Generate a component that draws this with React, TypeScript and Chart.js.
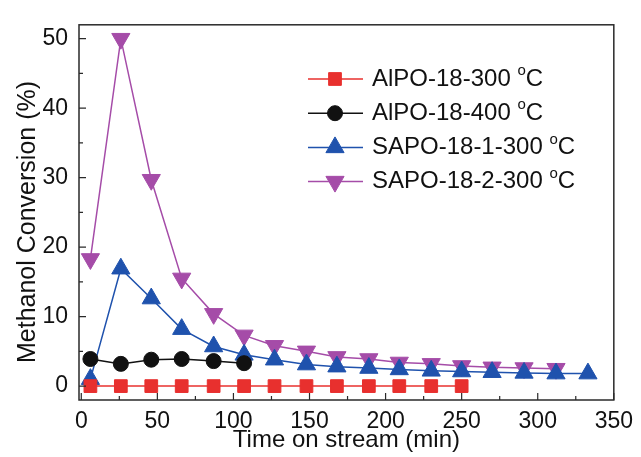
import React, { useEffect, useRef } from 'react';
import { Chart, registerables } from 'chart.js';

Chart.register(...registerables);

// ---- data ----
const timeMin = [6, 26, 46, 66, 87, 107, 127, 148, 168, 189, 209, 230, 250, 270, 291, 312, 333];
const alpo300 = [0, 0, 0, 0, 0, 0, 0, 0, 0, 0, 0, 0, 0];
const alpo400 = [3.9, 3.2, 3.8, 3.9, 3.6, 3.3];
const sapo1 = [1.0, 16.9, 12.6, 8.2, 5.7, 4.5, 3.8, 3.1, 2.8, 2.6, 2.4, 2.2, 2.1, 2.0, 1.9, 1.8, 1.8];
const sapo2 = [18.3, 50.0, 29.7, 15.5, 10.4, 7.3, 5.8, 5.0, 4.2, 3.9, 3.4, 3.2, 2.9, 2.7, 2.6, 2.5];

const seriesNames = ['AlPO-18-300 °C', 'AlPO-18-400 °C', 'SAPO-18-1-300 °C', 'SAPO-18-2-300 °C'];
const seriesColors = ['#e8302e', '#111111', '#1f52ad', '#a54ca8'];
const xTicks = [0, 25, 50, 75, 100, 125, 150, 175, 200, 225, 250, 275, 300, 325, 350];
const yTicks = [0, 5, 10, 15, 20, 25, 30, 35, 40, 45, 50];
const xTitle = 'Time on stream (min)';
const yTitle = 'Methanol Conversion (%)';

const FONT = 'Liberation Sans, Arial, Helvetica, sans-serif';

function pts(values: number[]) {
  return values.map((v, i) => ({ x: timeMin[i], y: v }));
}

const frameTicksPlugin = {
  id: 'frameTicks',
  afterDraw(chart: any) {
    const { ctx, chartArea } = chart;
    const xs = chart.scales.x;
    const ys = chart.scales.y;
    ctx.save();
    ctx.strokeStyle = '#2a2a2a';
    ctx.lineWidth = 1.5;
    ctx.strokeRect(chartArea.left, chartArea.top, chartArea.right - chartArea.left, chartArea.bottom - chartArea.top);
    ctx.lineWidth = 1.2;
    ctx.beginPath();
    xTicks.forEach((v) => {
      const px = xs.getPixelForValue(v);
      const len = v % 50 === 0 ? 7 : 4;
      ctx.moveTo(px, chartArea.bottom);
      ctx.lineTo(px, chartArea.bottom - len);
    });
    yTicks.forEach((v) => {
      const py = ys.getPixelForValue(v);
      const len = v % 10 === 0 ? 7 : 4;
      ctx.moveTo(chartArea.left, py);
      ctx.lineTo(chartArea.left + len, py);
    });
    ctx.stroke();
    // y axis title (placed as in the original figure, slightly below centre)
    ctx.translate(28, 222);
    ctx.rotate(-Math.PI / 2);
    ctx.fillStyle = '#111';
    ctx.font = `25px ${FONT}`;
    ctx.textAlign = 'center';
    ctx.textBaseline = 'middle';
    ctx.fillText(yTitle, 0, 0);
    ctx.restore();
  },
};

function drawMarker(ctx: CanvasRenderingContext2D, style: string, r: number, rot: number, x: number, y: number) {
  ctx.beginPath();
  if (style === 'rect') {
    const s = r * Math.SQRT2;
    ctx.rect(x - s / 2, y - s / 2, s, s);
  } else if (style === 'circle') {
    ctx.arc(x, y, r, 0, Math.PI * 2);
  } else if (style === 'triangle') {
    const a = (rot * Math.PI) / 180;
    for (let k = 0; k < 3; k++) {
      const ang = a + (k * 2 * Math.PI) / 3;
      const px = x + Math.sin(ang) * r;
      const py = y - Math.cos(ang) * r;
      if (k === 0) ctx.moveTo(px, py);
      else ctx.lineTo(px, py);
    }
    ctx.closePath();
  }
  ctx.fill();
  ctx.stroke();
}

const legendPlugin = {
  id: 'insideLegend',
  afterDraw(chart: any) {
    const { ctx } = chart;
    const x0 = 308;
    const x1 = 363;
    const xm = 335;
    const tx = 372;
    const y0 = 79;
    const dy = 34.2;
    ctx.save();
    chart.data.datasets.forEach((ds: any, i: number) => {
      const y = y0 + i * dy;
      ctx.strokeStyle = ds.borderColor;
      ctx.lineWidth = 1.5;
      ctx.beginPath();
      ctx.moveTo(x0, y);
      ctx.lineTo(x1, y);
      ctx.stroke();
      ctx.fillStyle = ds.backgroundColor;
      ctx.strokeStyle = ds.borderColor;
      ctx.lineWidth = 1;
      drawMarker(ctx, ds.pointStyle, ds.pointRadius, ds.pointRotation || 0, xm, y);
      const label: string = ds.label;
      const base = label.replace('°C', '');
      ctx.fillStyle = '#111';
      ctx.textBaseline = 'middle';
      ctx.textAlign = 'left';
      ctx.font = `24px ${FONT}`;
      ctx.fillText(base, tx, y);
      let w = ctx.measureText(base).width;
      ctx.font = `15px ${FONT}`;
      ctx.fillText('o', tx + w, y - 8);
      w += ctx.measureText('o').width;
      ctx.font = `24px ${FONT}`;
      ctx.fillText('C', tx + w, y);
    });
    ctx.restore();
  },
};

export default function App() {
  const ref = useRef<HTMLCanvasElement | null>(null);

  useEffect(() => {
    if (!ref.current) return;
    const mk = (i: number, values: number[], style: string, radius: number, rotation = 0) => ({
      label: seriesNames[i],
      data: pts(values),
      borderColor: seriesColors[i],
      backgroundColor: seriesColors[i],
      pointBackgroundColor: seriesColors[i],
      pointBorderColor: seriesColors[i],
      pointStyle: style,
      pointRadius: radius,
      pointRotation: rotation,
      pointBorderWidth: 1,
      borderWidth: 1.5,
      tension: 0,
      fill: false,
    });
    const chart = new Chart(ref.current, {
      type: 'line',
      data: {
        datasets: [
          mk(0, alpo300, 'rect', 9),
          mk(1, alpo400, 'circle', 7.5),
          mk(2, sapo1, 'triangle', 10.5),
          mk(3, sapo2, 'triangle', 10.5, 180),
        ] as any,
      },
      options: {
        animation: false,
        responsive: true,
        maintainAspectRatio: false,
        layout: { padding: { top: 14, right: 22, left: 0, bottom: 0 } },
        plugins: {
          legend: { display: false },
          tooltip: { enabled: false },
        },
        scales: {
          x: {
            type: 'linear',
            min: -1.5,
            max: 350,
            afterBuildTicks: (s: any) => {
              s.ticks = xTicks.map((v) => ({ value: v }));
            },
            afterFit: (s: any) => {
              s.height = 57;
            },
            grid: { display: false, drawTicks: false },
            border: { display: false },
            ticks: {
              autoSkip: false,
              maxRotation: 0,
              padding: 8,
              color: '#111',
              font: { family: FONT, size: 23 },
              callback: (v: any) => (Number(v) % 50 === 0 ? String(v) : ''),
            },
            title: {
              display: true,
              text: xTitle,
              color: '#111',
              font: { family: FONT, size: 24 },
              padding: { top: 0, bottom: 2 },
            },
          },
          y: {
            type: 'linear',
            min: -2,
            max: 52,
            afterBuildTicks: (s: any) => {
              s.ticks = yTicks.map((v) => ({ value: v }));
            },
            afterFit: (s: any) => {
              s.width = 79;
            },
            grid: { display: false, drawTicks: false },
            border: { display: false },
            ticks: {
              autoSkip: false,
              padding: 11,
              color: '#111',
              font: { family: FONT, size: 23 },
              callback: (v: any) => (Number(v) % 10 === 0 ? String(v) : ''),
            },
            title: { display: false, text: yTitle },
          },
        },
      },
      plugins: [frameTicksPlugin, legendPlugin],
    });
    return () => chart.destroy();
  }, []);

  return (
    <div style={{ position: 'fixed', left: 0, top: 0, width: 641, height: 457, background: '#fff' }}>
      <canvas ref={ref} />
    </div>
  );
}
